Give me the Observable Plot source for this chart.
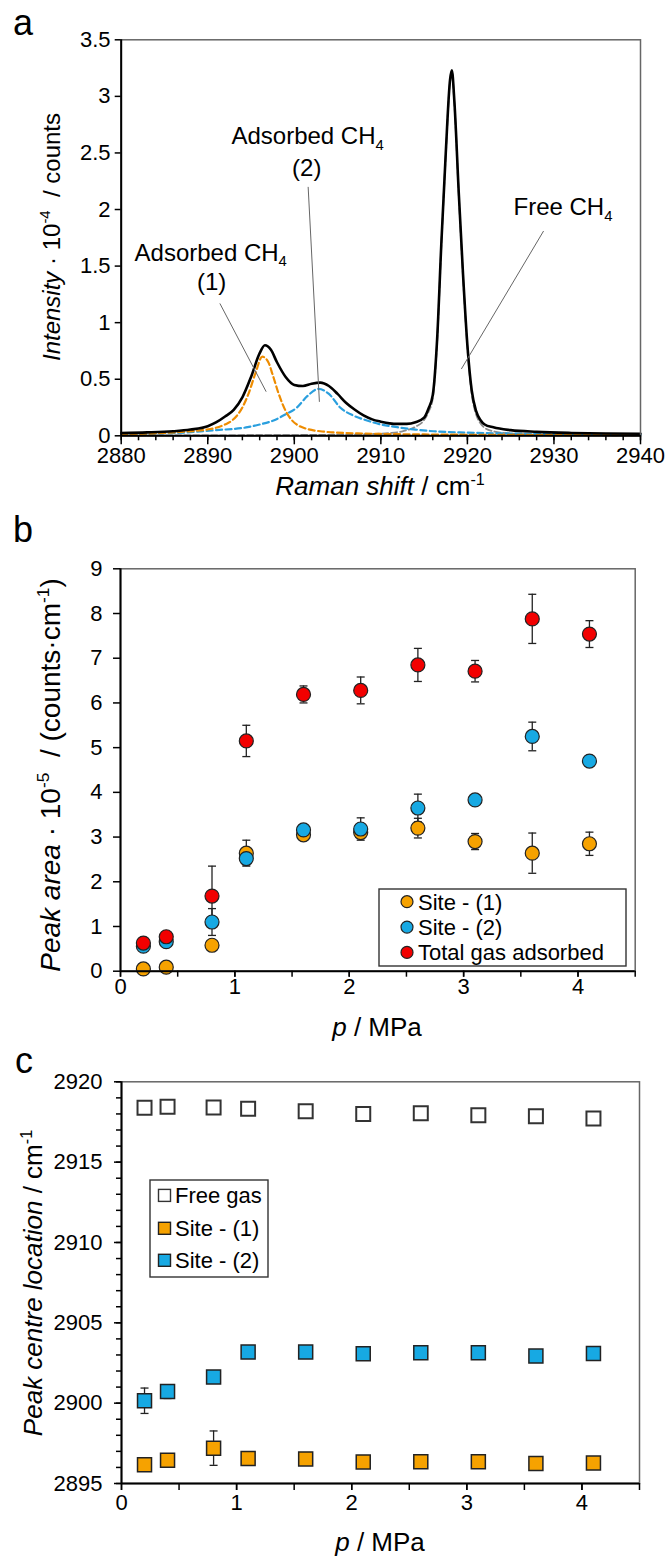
<!DOCTYPE html>
<html>
<head>
<meta charset="utf-8">
<script src="https://cdn.jsdelivr.net/npm/d3@7"></script>
<script src="https://cdn.jsdelivr.net/npm/@observablehq/plot@0.6"></script>
<style>
  html, body { margin: 0; padding: 0; background: #fff; }
  #wrap { width: 666px; }
  #wrap svg { display: block; }
</style>
</head>
<body>
<div id="wrap"></div>
<script>
// ---------------- Panel a : Raman spectrum ----------------
const shiftTotal = [2880, 2883, 2886, 2888, 2890, 2891, 2892, 2893, 2894, 2895, 2896, 2896.6, 2897.3, 2898, 2899, 2900, 2901, 2902, 2903, 2904, 2905, 2906, 2907, 2908, 2909, 2910, 2911, 2912, 2913, 2914, 2915, 2915.5, 2916, 2916.5, 2917, 2917.5, 2918, 2918.2, 2918.5, 2919, 2919.5, 2920, 2920.5, 2921, 2921.5, 2922, 2923, 2925, 2928, 2932, 2936, 2940];
const intensityTotal = [0.025, 0.03, 0.04, 0.055, 0.085, 0.12, 0.17, 0.23, 0.34, 0.52, 0.73, 0.80, 0.76, 0.65, 0.52, 0.45, 0.44, 0.46, 0.47, 0.44, 0.37, 0.29, 0.23, 0.18, 0.145, 0.125, 0.11, 0.105, 0.105, 0.12, 0.16, 0.24, 0.36, 0.85, 1.72, 2.5, 3.15, 3.23, 2.95, 2.15, 1.42, 0.8, 0.4, 0.22, 0.14, 0.1, 0.075, 0.05, 0.035, 0.025, 0.02, 0.018];

const shiftSite1 = [2880, 2883.4, 2887, 2890.3, 2892, 2892.8, 2894, 2894.7, 2895.5, 2896.3, 2897, 2897.5, 2898.2, 2899, 2899.75, 2900.5, 2901.5, 2903, 2904.5, 2908, 2915, 2925, 2940];
const intensitySite1 = [0.015, 0.02, 0.035, 0.06, 0.1, 0.135, 0.25, 0.37, 0.55, 0.70, 0.65, 0.54, 0.37, 0.22, 0.135, 0.09, 0.06, 0.04, 0.03, 0.02, 0.012, 0.008, 0.005];

const shiftSite2 = [2880, 2884, 2887.6, 2891, 2894.6, 2896, 2897.6, 2899, 2900.3, 2901.5, 2902.8, 2904, 2905.3, 2906.8, 2908.4, 2910, 2911.9, 2914, 2916.1, 2920, 2925, 2932, 2940];
const intensitySite2 = [0.012, 0.02, 0.03, 0.05, 0.076, 0.1, 0.135, 0.19, 0.25, 0.35, 0.415, 0.37, 0.25, 0.18, 0.135, 0.1, 0.076, 0.055, 0.04, 0.028, 0.02, 0.014, 0.01];

const shiftFree = [2880, 2895, 2905, 2909, 2911, 2912.5, 2914, 2915, 2915.5, 2916, 2916.5, 2917, 2917.5, 2918, 2918.2, 2918.5, 2919, 2919.5, 2920, 2920.5, 2921, 2921.5, 2922, 2923, 2925, 2930, 2940];
const intensityFree = [0.003, 0.005, 0.01, 0.016, 0.024, 0.04, 0.08, 0.14, 0.21, 0.33, 0.83, 1.7, 2.48, 3.13, 3.21, 2.93, 2.13, 1.4, 0.78, 0.37, 0.19, 0.11, 0.07, 0.04, 0.02, 0.008, 0.004];

const ticksAx = [2880, 2890, 2900, 2910, 2920, 2930, 2940];
const minorTicksAx = [2880, 2882, 2884, 2886, 2888, 2890, 2892, 2894, 2896, 2898, 2900, 2902, 2904, 2906, 2908, 2910, 2912, 2914, 2916, 2918, 2920, 2922, 2924, 2926, 2928, 2930, 2932, 2934, 2936, 2938, 2940];
const ticksAy = [0, 0.5, 1, 1.5, 2, 2.5, 3, 3.5];

const annotationsA = [
  { x: 2890.4, y: 1.62, parts: [["Adsorbed CH"], ["4", "sub"]] },
  { x: 2890.5, y: 1.36, parts: [["(1)"]] },
  { x: 2901.6, y: 2.65, parts: [["Adsorbed CH"], ["4", "sub"]] },
  { x: 2901.5, y: 2.37, parts: [["(2)"]] },
  { x: 2931.1, y: 2.02, parts: [["Free CH"], ["4", "sub"]] }
];
const leadersA = [
  { x1: 2891.4, y1: 1.17, x2: 2896.75, y2: 0.39 },
  { x1: 2901.6, y1: 2.20, x2: 2902.9, y2: 0.30 },
  { x1: 2928.8, y1: 1.81, x2: 2919.3, y2: 0.59 }
];

// ---------------- Panel b : peak areas ----------------
const pressure = [0.2, 0.4, 0.8, 1.1, 1.6, 2.1, 2.6, 3.1, 3.6, 4.1];
const areaSite1 = [0.05, 0.09, 0.58, 2.64, 3.05, 3.10, 3.20, 2.90, 2.64, 2.85];
const errAreaSite1 = [0, 0, 0, 0.29, 0.1, 0.1, 0.22, 0.18, 0.45, 0.26];
const areaSite2 = [0.56, 0.66, 1.10, 2.52, 3.16, 3.18, 3.65, 3.83, 5.25, 4.70];
const errAreaSite2 = [0, 0, 0.3, 0.14, 0.1, 0.25, 0.31, 0.1, 0.32, 0.1];
const areaTotal = [0.63, 0.77, 1.68, 5.15, 6.19, 6.28, 6.85, 6.71, 7.88, 7.54];
const errAreaTotal = [0.05, 0.05, 0.67, 0.35, 0.19, 0.3, 0.37, 0.24, 0.55, 0.3];
const legendB = ["Site - (1)", "Site - (2)", "Total gas adsorbed"];

const ticksPx = [0, 1, 2, 3, 4];
const minorTicksPx = [0, 0.5, 1, 1.5, 2, 2.5, 3, 3.5, 4, 4.5];
const ticksBy = [0, 1, 2, 3, 4, 5, 6, 7, 8, 9];

// ---------------- Panel c : peak centres ----------------
const centreFree = [2918.38, 2918.45, 2918.4, 2918.32, 2918.17, 2918.0, 2918.04, 2917.92, 2917.86, 2917.71];
const centreSite1 = [2896.17, 2896.44, 2897.2, 2896.55, 2896.53, 2896.34, 2896.36, 2896.35, 2896.24, 2896.27];
const errCentreSite1 = [0, 0, 1.07, 0, 0, 0, 0, 0, 0, 0];
const centreSite2 = [2900.15, 2900.72, 2901.63, 2903.18, 2903.18, 2903.08, 2903.14, 2903.13, 2902.93, 2903.09];
const errCentreSite2 = [0.79, 0.43, 0, 0, 0, 0, 0, 0, 0, 0];
const legendC = ["Free gas", "Site - (1)", "Site - (2)"];
const ticksCy = [2895, 2900, 2905, 2910, 2915, 2920];
const minorTicksCy = [2895, 2896, 2897, 2898, 2899, 2900, 2901, 2902, 2903, 2904, 2905, 2906, 2907, 2908, 2909, 2910, 2911, 2912, 2913, 2914, 2915, 2916, 2917, 2918, 2919, 2920];

// ---------------- styles ----------------
const FONT = "'Liberation Sans', Arial, Helvetica, sans-serif";
const ORANGE = "#F6A200", BLUE = "#17A9E3", RED = "#F20000";
const ORANGE_LINE = "#EE8C00", BLUE_LINE = "#2A9FDE";
const EDGE = "#222";
const fmt = d => String(d);
const wrap = document.getElementById("wrap");

function rich(g, parts, {x = 0, y = 0, size = 22, anchor = "middle", rotate = 0} = {}) {
  const t = g.append("text")
    .attr("font-family", FONT).attr("font-size", size)
    .attr("text-anchor", anchor).attr("fill", "#000")
    .style("white-space", "pre");
  if (rotate) t.attr("transform", `translate(${x},${y}) rotate(${rotate})`);
  else t.attr("x", x).attr("y", y);
  let shift = 0;
  for (const [s, st = ""] of parts) {
    const tok = st.split(" ");
    let target = 0, fs = size;
    if (tok.includes("sup")) { target = -0.4 * size; fs = 0.62 * size; }
    if (tok.includes("sub")) { target = 0.24 * size; fs = 0.62 * size; }
    const ts = t.append("tspan").text(s).attr("font-size", fs).attr("dy", target - shift);
    if (tok.includes("i")) ts.attr("font-style", "italic");
    shift = target;
  }
  return t;
}

const capSymbol = { draw(ctx) { ctx.moveTo(-4, 0); ctx.lineTo(4, 0); } };
const baseStyle = { fontFamily: FONT, fontSize: "22px", color: "#000", background: "#fff", overflow: "visible" };

// ================= Panel a =================
const toRows = (xs, ys) => xs.map((x, i) => ({ x, y: ys[i] }));
const plotA = Plot.plot({
  width: 666, height: 505,
  marginTop: 39.3, marginBottom: 69.7, marginLeft: 120.7, marginRight: 26,
  style: baseStyle,
  x: { domain: [2880, 2940] },
  y: { domain: [0, 3.5] },
  marks: [
    Plot.line(toRows(shiftFree, intensityFree), { x: "x", y: "y", stroke: "#8c8c8c", strokeWidth: 1.8, strokeDasharray: "6,3", curve: "monotone-x" }),
    Plot.line(toRows(shiftSite2, intensitySite2), { x: "x", y: "y", stroke: BLUE_LINE, strokeWidth: 2.2, strokeDasharray: "6,3.5", curve: "monotone-x" }),
    Plot.line(toRows(shiftSite1, intensitySite1), { x: "x", y: "y", stroke: ORANGE_LINE, strokeWidth: 2.2, strokeDasharray: "6,3.5", curve: "monotone-x" }),
    Plot.line(toRows(shiftTotal, intensityTotal), { x: "x", y: "y", stroke: "#000", strokeWidth: 2.6, curve: "monotone-x" }),
    Plot.link(leadersA, { x1: "x1", y1: "y1", x2: "x2", y2: "y2", stroke: "#666", strokeWidth: 1 }),
    Plot.frame({ stroke: "#666", strokeWidth: 1.5 }),
    Plot.ruleX([2880], { stroke: "#000", strokeWidth: 2 }),
    Plot.ruleY([0], { stroke: "#000", strokeWidth: 2 }),
    Plot.axisY(ticksAy, { tickSize: 6, tickPadding: 4.7, tickFormat: fmt, label: null, strokeWidth: 1.5 }),
    Plot.axisX(minorTicksAx, { tickSize: 5, tickFormat: () => "", label: null, strokeWidth: 1.5 }),
    Plot.axisX(ticksAx, { tickSize: 9, tickPadding: 2.5, tickFormat: fmt, label: null, strokeWidth: 1.5 })
  ]
});
wrap.appendChild(plotA);
{
  const g = d3.select(plotA);
  const sx = plotA.scale("x"), sy = plotA.scale("y");
  for (const a of annotationsA) {
    rich(g, a.parts, { x: sx.apply(a.x), y: sy.apply(a.y) + 0.36 * 24, size: 24 });
  }
  rich(g, [["a"]], { x: 13, y: 35, size: 36, anchor: "start" });
  rich(g, [["Intensity", "i"], [" · 10"], ["-4", "sup"], ["  / counts"]], { x: 60, y: 237, size: 24, rotate: -90 });
  rich(g, [["Raman shift", "i"], [" / cm"], ["-1", "sup"]], { x: 380, y: 495, size: 26 });
}

// ================= Panel b =================
const seriesB = [
  { vals: areaSite1, errs: errAreaSite1, fill: ORANGE },
  { vals: areaSite2, errs: errAreaSite2, fill: BLUE },
  { vals: areaTotal, errs: errAreaTotal, fill: RED }
];
const rowsB = seriesB.map(s => pressure.map((p, i) => ({ p, v: s.vals[i], e: s.errs[i] })));
const errRowsB = rowsB.flat().filter(d => d.e > 0);

const plotB = Plot.plot({
  width: 666, height: 535,
  marginTop: 63.3, marginBottom: 69.3, marginLeft: 120, marginRight: 31.3,
  style: baseStyle,
  x: { domain: [0, 4.5] },
  y: { domain: [0, 9] },
  marks: [
    Plot.ruleX(errRowsB, { x: "p", y1: d => d.v - d.e, y2: d => d.v + d.e, stroke: EDGE, strokeWidth: 1.3 }),
    Plot.dot(errRowsB, { x: "p", y: d => d.v + d.e, symbol: capSymbol, stroke: EDGE, fill: "none", strokeWidth: 1.3 }),
    Plot.dot(errRowsB, { x: "p", y: d => d.v - d.e, symbol: capSymbol, stroke: EDGE, fill: "none", strokeWidth: 1.3 }),
    ...rowsB.map((rows, k) => Plot.dot(rows, { x: "p", y: "v", r: 7, fill: seriesB[k].fill, stroke: EDGE, strokeWidth: 1.2 })),
    Plot.frame({ stroke: "#666", strokeWidth: 1.5 }),
    Plot.ruleX([0], { stroke: "#000", strokeWidth: 2 }),
    Plot.ruleY([0], { stroke: "#000", strokeWidth: 2 }),
    Plot.axisY(ticksBy, { tickSize: 7, tickPadding: 11, tickFormat: fmt, label: null, strokeWidth: 1.5 }),
    Plot.axisX(minorTicksPx, { tickSize: 6, tickFormat: () => "", label: null, strokeWidth: 1.5 }),
    Plot.axisX(ticksPx, { tickSize: 6, tickPadding: 1.5, tickFormat: fmt, label: null, strokeWidth: 1.5 })
  ]
});
wrap.appendChild(plotB);
{
  const g = d3.select(plotB);
  rich(g, [["b"]], { x: 13, y: 37, size: 36, anchor: "start" });
  rich(g, [["Peak area", "i"], [" · 10"], ["-5", "sup"], ["  / (counts·cm"], ["-1", "sup"], [")"]], { x: 60, y: 270, size: 28, rotate: -90 });
  rich(g, [["p", "i"], [" / MPa"]], { x: 377, y: 531, size: 26 });
  // legend
  const lg = g.append("g");
  lg.append("rect").attr("x", 379).attr("y", 384).attr("width", 247).attr("height", 77)
    .attr("fill", "#fff").attr("stroke", "#333").attr("stroke-width", 1.4);
  const rowY = [396.7, 422.1, 447.4];
  legendB.forEach((label, i) => {
    lg.append("circle").attr("cx", 407).attr("cy", rowY[i]).attr("r", 6)
      .attr("fill", seriesB[i].fill).attr("stroke", EDGE).attr("stroke-width", 1.2);
    rich(lg, [[label]], { x: 418, y: rowY[i] + 7.9, size: 22, anchor: "start" });
  });
}

// ================= Panel c =================
const seriesC = [
  { vals: centreFree, errs: pressure.map(() => 0), fill: "#fff", stroke: "#333", sw: 2 },
  { vals: centreSite1, errs: errCentreSite1, fill: ORANGE, stroke: EDGE, sw: 1.5 },
  { vals: centreSite2, errs: errCentreSite2, fill: BLUE, stroke: EDGE, sw: 1.5 }
];
const rowsC = seriesC.map(s => pressure.map((p, i) => ({ p, v: s.vals[i], e: s.errs[i] })));
const errRowsC = rowsC.flat().filter(d => d.e > 0);

const plotC = Plot.plot({
  width: 666, height: 517,
  marginTop: 41.3, marginBottom: 74, marginLeft: 121, marginRight: 27,
  style: baseStyle,
  x: { domain: [0, 4.5] },
  y: { domain: [2895, 2920] },
  marks: [
    Plot.ruleX(errRowsC, { x: "p", y1: d => d.v - d.e, y2: d => d.v + d.e, stroke: EDGE, strokeWidth: 1.3 }),
    Plot.dot(errRowsC, { x: "p", y: d => d.v + d.e, symbol: capSymbol, stroke: EDGE, fill: "none", strokeWidth: 1.3 }),
    Plot.dot(errRowsC, { x: "p", y: d => d.v - d.e, symbol: capSymbol, stroke: EDGE, fill: "none", strokeWidth: 1.3 }),
    ...rowsC.map((rows, k) => Plot.dot(rows, { x: "p", y: "v", symbol: "square", r: 7.9, fill: seriesC[k].fill, stroke: seriesC[k].stroke, strokeWidth: seriesC[k].sw })),
    Plot.frame({ stroke: "#666", strokeWidth: 1.5 }),
    Plot.ruleX([0], { stroke: "#000", strokeWidth: 2 }),
    Plot.ruleY([2895], { stroke: "#000", strokeWidth: 2 }),
    Plot.axisY(minorTicksCy, { tickSize: 5, tickFormat: () => "", label: null, strokeWidth: 1.5 }),
    Plot.axisY(ticksCy, { tickSize: 7, tickPadding: 12, tickFormat: fmt, label: null, strokeWidth: 1.5 }),
    Plot.axisX(minorTicksPx, { tickSize: 7, tickFormat: () => "", label: null, strokeWidth: 1.5 }),
    Plot.axisX(ticksPx, { tickSize: 7, tickPadding: 3.4, tickFormat: fmt, label: null, strokeWidth: 1.5 })
  ]
});
wrap.appendChild(plotC);
{
  const g = d3.select(plotC);
  rich(g, [["c"]], { x: 15, y: 33, size: 36, anchor: "start" });
  rich(g, [["Peak centre location", "i"], [" / cm"], ["-1", "sup"]], { x: 42, y: 243, size: 26, rotate: -90 });
  rich(g, [["p", "i"], [" / MPa"]], { x: 380, y: 511, size: 26 });
  const lg = g.append("g");
  lg.append("rect").attr("x", 150).attr("y", 140).attr("width", 118).attr("height", 97)
    .attr("fill", "#fff").attr("stroke", "#333").attr("stroke-width", 1.4);
  const rowY = [155.4, 188.3, 220.3];
  legendC.forEach((label, i) => {
    lg.append("rect").attr("x", 164.5 - 6).attr("y", rowY[i] - 6).attr("width", 12).attr("height", 12)
      .attr("fill", seriesC[i].fill).attr("stroke", seriesC[i].stroke).attr("stroke-width", 1.4);
    rich(lg, [[label]], { x: 175, y: rowY[i] + 7.9, size: 22, anchor: "start" });
  });
}
</script>
</body>
</html>
